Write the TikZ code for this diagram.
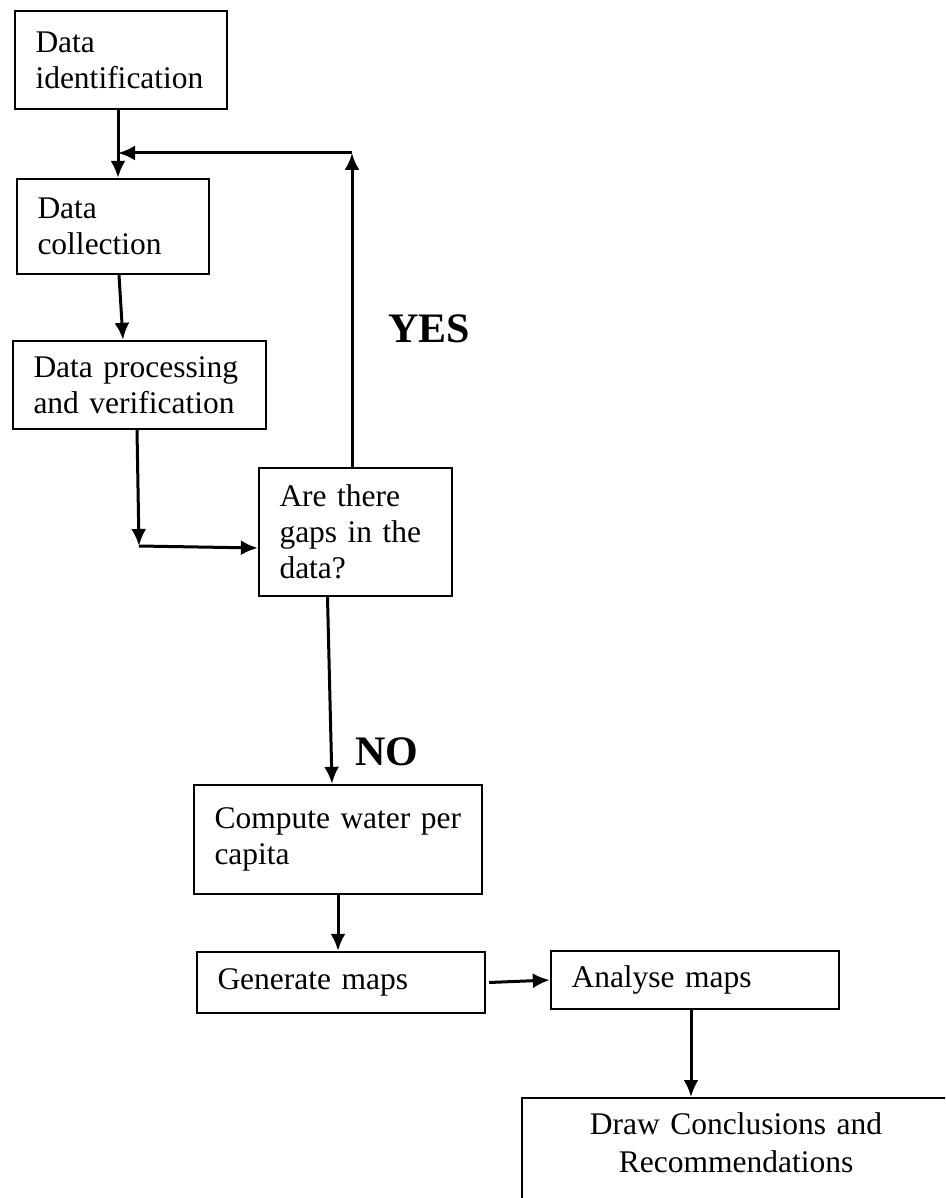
\documentclass[tikz,border=0pt]{standalone}
\usepackage{fontspec}
\setmainfont{Liberation Serif}
\usetikzlibrary{arrows.meta}

\begin{document}
\begin{tikzpicture}[x=1pt, y=-1pt,
    block/.style={rectangle, draw, line width=2.3pt, inner xsep=20.5pt, align=left, font=\fontsize{31.5}{36}\selectfont},
    endblock/.style={rectangle, draw, line width=2.3pt, inner xsep=24pt, inner ysep=14pt, text width=380pt, align=center, text depth=80pt, font=\fontsize{31.5}{38}\selectfont},
    answer/.style={inner sep=0pt, font=\fontsize{42}{48}\selectfont\bfseries},
    line/.style={draw, -{Latex[length=17pt, width=15pt]}, line width=3pt}]

    \useasboundingbox (0,0) rectangle (945,1198);
    \clip (0,0) rectangle (945,1198);

    \node [block, text width=171pt, minimum height=98pt] (ident) at (121,60) {Data\\identification};
    \node [block, text width=151pt, minimum height=95pt] (coll) at (113,226.5) {Data\\collection};
    \node [block, text width=212pt, minimum height=88pt] (proc) at (139.5,385) {Data processing\\and verification};
    \node [block, text width=152pt, minimum height=128pt] (gaps) at (355.5,532) {Are there\\gaps in the\\data?};
    \node [block, text width=247pt, minimum height=109pt] (comp) at (338,839.5) {Compute water per\\capita};
    \node [block, text width=247pt, minimum height=61pt] (gen) at (341,982.5) {Generate maps};
    \node [block, text width=247pt, minimum height=58pt] (anal) at (695,980) {Analyse maps};
    \node [endblock, anchor=north] (concl) at (736,1097) {Draw Conclusions and\\Recommendations};

    \node [answer] (yes) at (429,328.5) {YES};
    \node [answer] (no) at (386.5,752) {NO};

    % loop back when data is missing
    \coordinate (looptop) at (352,153);
    \coordinate (loopend) at (118,153);
    \coordinate (bend) at (139,546);

    \path [line] ([xshift=-3pt]ident.south) -- ([xshift=-3pt]ident.south |- coll.north);
    \path [line] ([xshift=6pt]coll.south) -- ([xshift=-16.5pt]proc.north);
    \path [line] ([xshift=-2.5pt]proc.south) -- (bend);
    \path [line] (bend) -- ([yshift=-2pt]gaps.west |- bend);
    \path [line] ([xshift=-3.5pt]gaps.north) -- (looptop);
    \path [line] (looptop) -- (loopend);
    \path [line] ([xshift=-28pt]gaps.south) -- ([xshift=-6pt]comp.north);
    \path [line] (comp.south) -- (comp.south |- gen.north);
    \path [line] ([xshift=3pt]gen.east) -- (anal.west);
    \path [line] ([xshift=-4pt]anal.south) -- ([xshift=-4pt]anal.south |- concl.north);
\end{tikzpicture}
\end{document}
